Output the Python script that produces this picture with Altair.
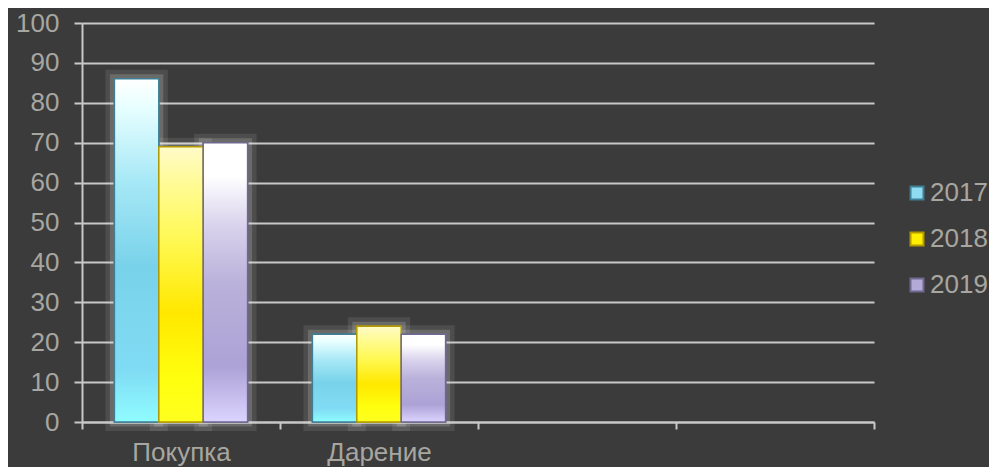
import altair as alt
import pandas as pd

categories = ["Покупка", "Дарение"]
empty_slots = ["slot3", "slot4"]
years = ["2017", "2018", "2019"]
values_2017 = [86, 22]
values_2018 = [69, 24]
values_2019 = [70, 22]
y_ticks = [0, 10, 20, 30, 40, 50, 60, 70, 80, 90, 100]

rows = []
for yr, vals in zip(years, [values_2017, values_2018, values_2019]):
    for c, v in zip(categories, vals):
        rows.append({"Категория": c, "Год": yr, "Значение": v})
df = pd.DataFrame(rows)

domain_x = categories + empty_slots
fill_colors = ["#8fdcf2", "#ffee00", "#b4aad8"]
stroke_colors = ["#3f7f96", "#b39a00", "#6f6890"]
text_color = "#a8a6a0"
line_color = "#c8c8c8"

def grad(stops):
    return alt.Gradient(
        gradient="linear", x1=0, x2=0, y1=0, y2=1,
        stops=[alt.GradientStop(color=c, offset=o) for o, c in stops],
    )

gradients = {
    "2017": grad([(0, "#ffffff"), (0.08, "#e8ffff"), (0.3, "#a6e8f6"), (0.55, "#78d2ea"),
                  (0.85, "#80dcf4"), (1, "#8ffcff")]),
    "2018": grad([(0, "#fffbc8"), (0.15, "#fffb90"), (0.35, "#fff850"), (0.6, "#ffe800"),
                  (0.85, "#ffff10"), (1, "#ffff20")]),
    "2019": grad([(0, "#ffffff"), (0.12, "#ffffff"), (0.3, "#d8d2ec"), (0.5, "#bab2da"),
                  (0.8, "#aca2d6"), (1, "#dcd4ff")]),
}

x_enc = alt.X(
    "Категория:N",
    scale=alt.Scale(domain=domain_x, paddingInner=0, paddingOuter=0),
    axis=alt.Axis(
        title=None, labelAngle=0, tickBand="extent",
        labelExpr="indexof(['slot3','slot4'], datum.value) >= 0 ? '' : datum.value",
        labelFontSize=26, labelColor=text_color, labelFont="Liberation Sans",
        labelPadding=10, domainColor=line_color, tickColor=line_color,
        tickSize=7, domainWidth=2, tickWidth=2, grid=False,
    ),
)
xoff_enc = alt.XOffset(
    "Год:N", scale=alt.Scale(domain=years, paddingOuter=0.73, paddingInner=0)
)
y_enc = alt.Y(
    "Значение:Q",
    scale=alt.Scale(domain=[0, 100], nice=False),
    axis=alt.Axis(
        title=None, values=y_ticks, labelFontSize=26, labelColor=text_color,
        labelFont="Liberation Sans", labelPadding=15, domainColor=line_color,
        tickColor=line_color, tickSize=8, domainWidth=2, tickWidth=2,
        gridColor=line_color, gridWidth=2,
    ),
)

base = alt.Chart(df)

glow1 = base.mark_bar(fillOpacity=0, stroke="#f0f0e8", strokeOpacity=0.1, strokeWidth=18).encode(
    x=x_enc, xOffset=xoff_enc, y=y_enc
)
glow2 = base.mark_bar(fillOpacity=0, stroke="#f0f0e8", strokeOpacity=0.18, strokeWidth=9).encode(
    x=x_enc, xOffset=xoff_enc, y=y_enc
)
solid = base.mark_bar(strokeWidth=1.5).encode(
    x=x_enc, xOffset=xoff_enc, y=y_enc,
    fill=alt.Fill("Год:N", scale=alt.Scale(domain=years, range=fill_colors),
                  legend=alt.Legend(title=None)),
    stroke=alt.Stroke("Год:N", scale=alt.Scale(domain=years, range=stroke_colors),
                      legend=alt.Legend(title=None)),
)
layers = [glow1, glow2, solid]
for yr, sc in zip(years, stroke_colors):
    layers.append(
        base.transform_filter(alt.datum["Год"] == yr)
        .mark_bar(fill=gradients[yr], stroke=sc, strokeWidth=1.5)
        .encode(x=x_enc, xOffset=xoff_enc, y=y_enc)
    )

chart = (
    alt.layer(*layers)
    .properties(
        width=792, height=399, background="#3b3b3b",
        autosize=alt.AutoSizeParams(type="none"),
        padding={"left": 74, "top": 15, "right": 115, "bottom": 45},
    )
    .configure_view(stroke=None)
    .configure_legend(
        orient="none", legendX=822, legendY=157, symbolType="square",
        symbolSize=169, symbolStrokeWidth=2, labelFontSize=26,
        labelColor=text_color, labelFont="Liberation Sans", labelOffset=0,
        rowPadding=20, symbolOpacity=1,
    )
)

chart.save("out.html", embed_options={"renderer": "svg", "actions": False})
